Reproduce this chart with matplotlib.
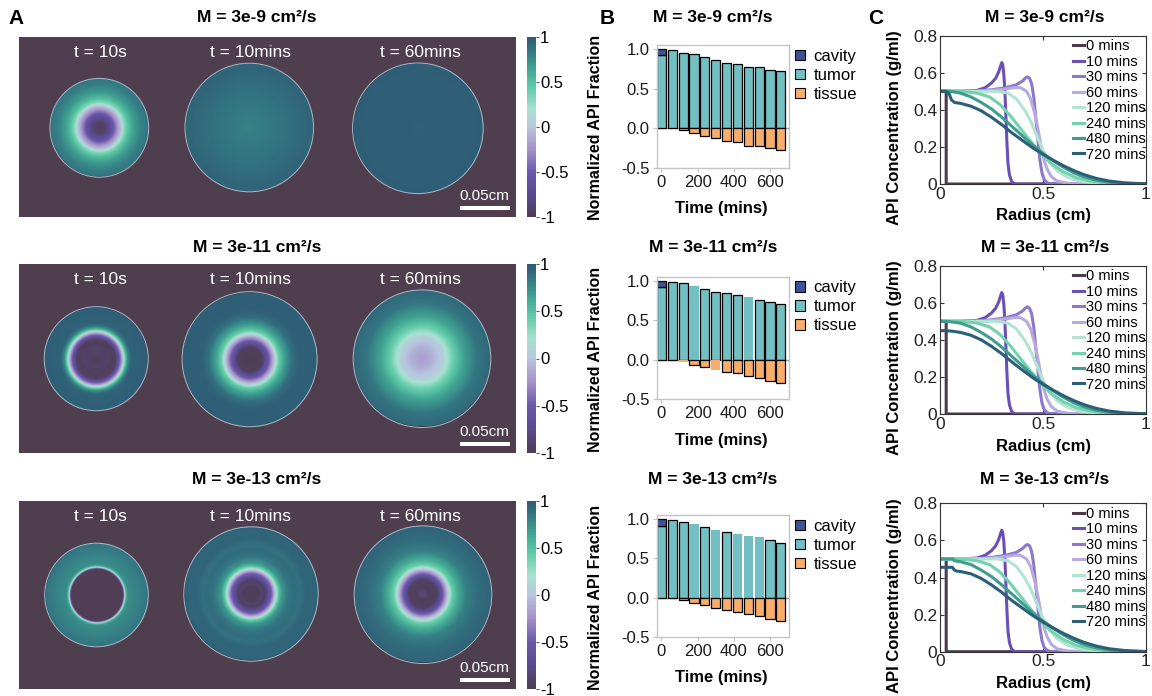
import numpy as np
import matplotlib
matplotlib.use("Agg")
import matplotlib.pyplot as plt
from matplotlib.colors import LinearSegmentedColormap
from matplotlib.patches import Circle, Rectangle, Patch
from matplotlib.colorbar import ColorbarBase
from matplotlib.colors import Normalize

plt.rcParams['font.family'] = ['Liberation Sans', 'DejaVu Sans']

# ---------------------------------------------------------------- data
mobility_titles = ["M = 3e-9 cm²/s", "M = 3e-11 cm²/s", "M = 3e-13 cm²/s"]
snapshot_labels = ["t = 10s", "t = 10mins", "t = 60mins"]

# radial profiles of the normalized field (rho = r / disk radius)
rho_m9_10s = [0, 0.12, 0.25, 0.36, 0.44, 0.5, 0.58, 0.7, 0.85, 1.0]
val_m9_10s = [-0.95, -0.88, -0.62, -0.25, 0.0, 0.3, 0.5, 0.68, 0.8, 0.86]
rho_m9_10m = [0, 0.5, 1.0]
val_m9_10m = [0.8, 0.86, 0.95]
rho_m9_60m = [0, 1.0]
val_m9_60m = [0.96, 0.97]

rho_m11_10s = [0, 0.2, 0.3, 0.38, 0.42, 0.47, 0.52, 0.56, 0.61, 0.68, 1.0]
val_m11_10s = [-0.95, -0.9, -0.95, -0.92, -0.7, -0.4, 0.0, 0.4, 0.75, 0.95, 0.97]
rho_m11_10m = [0, 0.18, 0.22, 0.27, 0.32, 0.37, 0.42, 0.5, 0.62, 0.72, 1.0]
val_m11_10m = [-0.97, -0.95, -0.75, -0.55, -0.25, 0.05, 0.4, 0.65, 0.88, 0.96, 0.97]
rho_m11_60m = [0, 0.15, 0.3, 0.45, 0.6, 0.8, 1.0]
val_m11_60m = [-0.2, -0.1, 0.05, 0.4, 0.65, 0.85, 0.93]

rho_m13_10s = [0, 0.5, 0.515, 0.53, 0.545, 0.56, 0.6, 0.8, 1.0]
val_m13_10s = [-0.97, -0.97, -0.5, 0.0, 0.25, 0.6, 0.75, 0.8, 0.86]
rho_m13_10m = [0, 0.12, 0.15, 0.2, 0.25, 0.3, 0.35, 0.4, 0.45, 0.55, 0.65, 0.72, 0.8, 1.0]
val_m13_10m = [-0.95, -0.95, -0.88, -0.93, -0.7, -0.45, 0.0, 0.45, 0.7, 0.85, 0.9, 0.87, 0.93, 0.95]
rho_m13_60m = [0, 0.04, 0.08, 0.2, 0.26, 0.31, 0.36, 0.42, 0.5, 0.62, 0.8, 1.0]
val_m13_60m = [-0.8, -0.85, -0.95, -0.93, -0.65, -0.35, 0.0, 0.4, 0.6, 0.8, 0.9, 0.95]

profiles = [
    [(rho_m9_10s, val_m9_10s), (rho_m9_10m, val_m9_10m), (rho_m9_60m, val_m9_60m)],
    [(rho_m11_10s, val_m11_10s), (rho_m11_10m, val_m11_10m), (rho_m11_60m, val_m11_60m)],
    [(rho_m13_10s, val_m13_10s), (rho_m13_10m, val_m13_10m), (rho_m13_60m, val_m13_60m)],
]

# API fraction per compartment over time
times = [0, 60, 120, 180, 240, 300, 360, 420, 480, 540, 600, 660]
cavity_m9 = [0.07, 0, 0, 0, 0, 0, 0, 0, 0, 0, 0, 0]
tumor_m9 = [0.93, 0.99, 0.96, 0.94, 0.90, 0.87, 0.83, 0.81, 0.77, 0.77, 0.74, 0.72]
tissue_m9 = [0, 0, -0.025, -0.06, -0.097, -0.127, -0.165, -0.18, -0.22, -0.22, -0.25, -0.27]
cavity_m11 = [0.08, 0, 0, 0, 0, 0, 0, 0, 0, 0, 0, 0]
tumor_m11 = [0.92, 0.99, 0.97, 0.93, 0.90, 0.86, 0.84, 0.82, 0.79, 0.755, 0.73, 0.70]
tissue_m11 = [0, 0, -0.025, -0.065, -0.09, -0.135, -0.15, -0.17, -0.21, -0.235, -0.265, -0.29]
cavity_m13 = [0.08, 0, 0, 0, 0, 0, 0, 0, 0, 0, 0, 0]
tumor_m13 = [0.92, 0.99, 0.97, 0.94, 0.90, 0.865, 0.84, 0.81, 0.79, 0.775, 0.73, 0.70]
tissue_m13 = [0, 0, -0.03, -0.065, -0.10, -0.13, -0.155, -0.18, -0.205, -0.23, -0.27, -0.30]
bar_sets = [(cavity_m9, tumor_m9, tissue_m9),
            (cavity_m11, tumor_m11, tissue_m11),
            (cavity_m13, tumor_m13, tissue_m13)]

# concentration profiles along the radius
curve_labels = ["0 mins", "10 mins", "30 mins", "60 mins", "120 mins",
                "240 mins", "480 mins", "720 mins"]
r_0m = [0, 0.03, 0.0301, 1.0]
c_0m = [0.5, 0.5, 0.0, 0.0]
r_10m = [0, 0.1, 0.18, 0.22, 0.25, 0.27, 0.285, 0.295, 0.3, 0.305, 0.31, 0.315,
         0.32, 0.325, 0.33, 0.337, 0.347, 0.36, 0.37, 1.0]
c_10m = [0.5, 0.5, 0.505, 0.52, 0.545, 0.57, 0.605, 0.64, 0.655, 0.64, 0.59, 0.5,
         0.36, 0.22, 0.11, 0.05, 0.015, 0.002, 0, 0]
r_30m = [0, 0.15, 0.25, 0.32, 0.37, 0.40, 0.415, 0.425, 0.435, 0.445, 0.455, 0.465,
         0.475, 0.485, 0.495, 0.505, 0.52, 0.54, 1.0]
c_30m = [0.5, 0.5, 0.508, 0.52, 0.535, 0.555, 0.572, 0.578, 0.57, 0.54, 0.47, 0.36,
         0.24, 0.13, 0.06, 0.025, 0.007, 0, 0]
r_60m = [0, 0.2, 0.3, 0.36, 0.39, 0.42, 0.44, 0.46, 0.475, 0.49, 0.505, 0.52,
         0.54, 0.57, 0.62, 0.7, 1.0]
c_60m = [0.5, 0.5, 0.51, 0.52, 0.52, 0.5, 0.46, 0.38, 0.3, 0.21, 0.13, 0.08,
         0.04, 0.015, 0.004, 0, 0]
r_120m = [0, 0.2, 0.28, 0.33, 0.37, 0.41, 0.44, 0.47, 0.5, 0.53, 0.57, 0.62,
          0.68, 0.76, 0.85, 1.0]
c_120m = [0.5, 0.5, 0.5, 0.49, 0.46, 0.4, 0.34, 0.26, 0.18, 0.12, 0.07, 0.035,
          0.015, 0.004, 0, 0]
r_240m = [0, 0.1, 0.18, 0.24, 0.29, 0.34, 0.39, 0.44, 0.49, 0.54, 0.6, 0.66,
          0.72, 0.8, 0.9, 1.0]
c_240m = [0.5, 0.5, 0.49, 0.47, 0.43, 0.37, 0.3, 0.23, 0.165, 0.11, 0.065, 0.035,
          0.018, 0.006, 0.001, 0]
r_480m_m9 = [0, 0.05, 0.1, 0.15, 0.2, 0.25, 0.3, 0.35, 0.4, 0.45, 0.5, 0.55,
             0.6, 0.65, 0.7, 0.76, 0.83, 0.9, 1.0]
c_480m_m9 = [0.5, 0.5, 0.49, 0.47, 0.44, 0.405, 0.36, 0.31, 0.26, 0.21, 0.165, 0.125,
             0.09, 0.06, 0.038, 0.02, 0.008, 0.003, 0]
r_480m_m11 = r_480m_m9
c_480m_m11 = [0.5, 0.498, 0.49, 0.47, 0.44, 0.405, 0.36, 0.31, 0.26, 0.21, 0.165, 0.125,
              0.09, 0.06, 0.038, 0.02, 0.008, 0.003, 0]
r_480m_m13 = [0, 0.06, 0.07, 0.1, 0.15, 0.2, 0.25, 0.3, 0.35, 0.4, 0.45, 0.5, 0.55,
              0.6, 0.65, 0.7, 0.76, 0.83, 0.9, 1.0]
c_480m_m13 = [0.5, 0.5, 0.49, 0.485, 0.47, 0.44, 0.405, 0.36, 0.31, 0.26, 0.21, 0.165, 0.125,
              0.09, 0.06, 0.038, 0.02, 0.008, 0.003, 0]
r_720m_m9 = [0, 0.03, 0.045, 0.055, 0.07, 0.1, 0.15, 0.2, 0.25, 0.3, 0.35, 0.4, 0.45,
             0.5, 0.55, 0.6, 0.65, 0.7, 0.76, 0.82, 0.9, 1.0]
c_720m_m9 = [0.5, 0.5, 0.485, 0.455, 0.44, 0.435, 0.42, 0.395, 0.36, 0.32, 0.275, 0.235, 0.195,
             0.16, 0.128, 0.098, 0.072, 0.05, 0.03, 0.016, 0.006, 0.001]
r_720m_m11 = [0, 0.05, 0.1, 0.15, 0.2, 0.25, 0.3, 0.35, 0.4, 0.45, 0.5, 0.55, 0.6,
              0.65, 0.7, 0.76, 0.82, 0.9, 1.0]
c_720m_m11 = [0.45, 0.448, 0.44, 0.425, 0.4, 0.365, 0.325, 0.28, 0.237, 0.196, 0.16, 0.128, 0.098,
              0.072, 0.05, 0.03, 0.016, 0.006, 0.001]
r_720m_m13 = [0, 0.06, 0.07, 0.08, 0.1, 0.15, 0.2, 0.25, 0.3, 0.35, 0.4, 0.45, 0.5,
              0.55, 0.6, 0.65, 0.7, 0.76, 0.82, 0.9, 1.0]
c_720m_m13 = [0.455, 0.455, 0.44, 0.435, 0.432, 0.42, 0.395, 0.36, 0.32, 0.275, 0.235, 0.195, 0.16,
              0.128, 0.098, 0.072, 0.05, 0.03, 0.016, 0.006, 0.001]
shared_curves = [(r_0m, c_0m), (r_10m, c_10m), (r_30m, c_30m), (r_60m, c_60m),
                 (r_120m, c_120m), (r_240m, c_240m)]
late_curves = [[(r_480m_m9, c_480m_m9), (r_720m_m9, c_720m_m9)],
               [(r_480m_m11, c_480m_m11), (r_720m_m11, c_720m_m11)],
               [(r_480m_m13, c_480m_m13), (r_720m_m13, c_720m_m13)]]

# ---------------------------------------------------------------- styles
cmap_nodes = [-1, -0.75, -0.5, -0.25, 0, 0.2, 0.45, 0.7, 0.85, 1]
cmap_hex = ['#4e3d4f', '#5a4a90', '#6a58aa', '#a690c8', '#b8c6de',
            '#a8e2d0', '#5ecaa6', '#3c9a8e', '#347682', '#2e5a73']
field_cmap = LinearSegmentedColormap.from_list(
    'field', list(zip([(v + 1) / 2 for v in cmap_nodes], cmap_hex)))
field_cmap.set_bad((0, 0, 0, 0))
bg_color = '#4f3f4e'
line_colors = ['#4d3b4d', '#6a4fb8', '#8b78cc', '#b6aadf', '#b3e3d3',
               '#74d1ae', '#3f9c8e', '#2b5f78']
cavity_c, tumor_c, tissue_c = '#3f5293', '#72bfc4', '#f9ad6a'
no_edge_tumor = [[], [3, 8], [3, 5, 7, 8, 9]]
no_edge_tissue = [[], [2, 5], []]

W, H = 1152, 696
fig = plt.figure(figsize=(W / 100, H / 100), dpi=100)


def px_axes(x0, y0, x1, y1):
    return fig.add_axes([x0 / W, 1 - y1 / H, (x1 - x0) / W, (y1 - y0) / H])


def px_text(x, y, s, **kw):
    kw.setdefault('ha', 'center')
    kw.setdefault('va', 'center')
    return fig.text(x / W, 1 - y / H, s, **kw)


# ---------------------------------------------------------------- panel A
row_boxes = [(18.5, 37.3, 516, 217.3), (18.5, 264, 516, 453), (18.5, 500.7, 516, 689.3)]
disks = [[(99.3, 127.8, 49.4), (249.3, 127.5, 64.3), (417.9, 128.3, 65.3)],
         [(96.2, 358.7, 52), (249.6, 359.2, 67.5), (422, 358.7, 68.8)],
         [(96.5, 595, 51.8), (251, 594, 67.2), (423, 594.7, 68.8)]]
label_x = [100, 251, 420]
title_y = [18, 247.5, 479]

g = np.linspace(-1, 1, 400)
GX, GY = np.meshgrid(g, g)
GR = np.hypot(GX, GY)

for i, (x0, y0, x1, y1) in enumerate(row_boxes):
    ax = px_axes(x0, y0, x1, y1)
    ax.set_facecolor(bg_color)
    for (cx, cy, r), (rk, vk) in zip(disks[i], profiles[i]):
        Z = np.ma.masked_where(GR > 1.0, np.interp(GR, rk, vk))
        im = ax.imshow(Z, extent=(cx - r, cx + r, cy + r, cy - r), cmap=field_cmap,
                       vmin=-1, vmax=1, interpolation='bilinear', zorder=2)
        circ = Circle((cx, cy), r, facecolor='none', edgecolor='#a9bccb',
                      lw=0.7, zorder=3)
        ax.add_patch(circ)
        im.set_clip_path(circ)
    for lx, lab in zip(label_x, snapshot_labels):
        ax.text(lx, y0 + 15.5, lab, color='white', fontsize=12.5, ha='center', va='center')
    ax.add_patch(Rectangle((460.4, y1 - 11), 49.2, 4, facecolor='white', edgecolor='none', zorder=4))
    ax.text(484.5, y1 - 21.5, "0.05cm", color='white', fontsize=11, ha='center', va='center')
    ax.set_xlim(x0, x1)
    ax.set_ylim(y1, y0)
    ax.set_aspect('auto')
    ax.set_xticks([])
    ax.set_yticks([])
    for s in ax.spines.values():
        s.set_visible(False)

    cax = px_axes(527, y0, 536, y1)
    cb = ColorbarBase(cax, cmap=field_cmap, norm=Normalize(-1, 1), ticks=[-1, -0.5, 0, 0.5, 1])
    cb.outline.set_visible(False)
    cb.set_ticklabels(['-1', '-0.5', '0', '0.5', '1'])
    cax.tick_params(labelsize=12, length=2, width=0.6, pad=1, color='#333333')

    px_text(257, title_y[i], mobility_titles[i], fontsize=12.5, fontweight='bold')

# ---------------------------------------------------------------- panel B
b_boxes = [(656.7, 45.4, 789, 167.7), (656.7, 276.8, 789, 399.3), (656.7, 515.4, 789, 636.7)]
for i, (x0, y0, x1, y1) in enumerate(b_boxes):
    ax = px_axes(x0, y0, x1, y1)
    cav, tum, tis = bar_sets[i]
    ax.axhline(0, color='#9a9a9a', lw=1.0, zorder=1)
    tb = ax.bar(times, tum, width=50, color=tumor_c, edgecolor='black', lw=0.9, zorder=2)
    cb_ = ax.bar(times, cav, width=50, bottom=tum, color=cavity_c, edgecolor='black', lw=0.9, zorder=2)
    sb = ax.bar(times, tis, width=50, color=tissue_c, edgecolor='black', lw=0.9, zorder=2)
    for k, c in enumerate(cav):
        if c == 0:
            cb_[k].set_visible(False)
        if tis[k] == 0:
            sb[k].set_visible(False)
    for k in no_edge_tumor[i]:
        tb[k].set_edgecolor('none')
    for k in no_edge_tissue[i]:
        sb[k].set_edgecolor('none')
    ax.set_xlim(-26, 705)
    ax.set_ylim(-0.5, 1.05)
    ax.set_xticks([0, 200, 400, 600])
    ax.set_yticks([-0.5, 0, 0.5, 1.0])
    ax.set_yticklabels(['-0.5', '0.0', '0.5', '1.0'])
    for s in ax.spines.values():
        s.set_color('#c4c4c4')
        s.set_linewidth(1.0)
    ax.tick_params(colors='#c4c4c4', labelcolor='#1a1a1a', labelsize=12, length=3, pad=2)
    handles = [Patch(facecolor=cavity_c, edgecolor='black', lw=0.8, label='cavity'),
               Patch(facecolor=tumor_c, edgecolor='black', lw=0.8, label='tumor'),
               Patch(facecolor=tissue_c, edgecolor='black', lw=0.8, label='tissue')]
    ax.legend(handles=handles, loc='upper left', bbox_to_anchor=(1.02, 1.0), frameon=False,
              handlelength=0.6, handleheight=0.6, handletextpad=0.5, labelspacing=0.25,
              fontsize=12, borderaxespad=0.0, borderpad=0.2)
    px_text(721, y1 + 41, "Time (mins)", fontsize=12, fontweight='bold')
    px_text(596, (y0 + y1) / 2 + 21, "Normalized API Fraction", fontsize=11.5,
            fontweight='bold', rotation=90)
    px_text(713, title_y[i], mobility_titles[i], fontsize=12.5, fontweight='bold')

# ---------------------------------------------------------------- panel C
c_boxes = [(940, 35.7, 1146, 184), (940, 265.7, 1146, 414), (940, 503.3, 1146, 651.7)]
for i, (x0, y0, x1, y1) in enumerate(c_boxes):
    ax = px_axes(x0, y0, x1, y1)
    curves = shared_curves + late_curves[i]
    for (rr, cc), col, lab in zip(curves, line_colors, curve_labels):
        ax.plot(rr, cc, color=col, lw=2.2, label=lab, solid_joinstyle='round')
    ax.set_xlim(0, 1)
    ax.set_ylim(0, 0.8)
    ax.set_xticks([0, 0.5, 1])
    ax.set_xticklabels(['0', '0.5', '1'])
    ax.set_yticks([0, 0.2, 0.4, 0.6, 0.8])
    ax.set_yticklabels(['0', '0.2', '0.4', '0.6', '0.8'])
    for s in ax.spines.values():
        s.set_color('#333333')
        s.set_linewidth(0.8)
    ax.tick_params(direction='in', top=True, right=True, length=3, width=0.8,
                   labelsize=12.5, pad=2, color='#333333', labelcolor='#222222')
    ax.legend(loc='upper right', bbox_to_anchor=(1.005, 0.985), frameon=False,
              fontsize=10.5, handlelength=0.8, handletextpad=0.1, labelspacing=0.1,
              borderaxespad=0.0, borderpad=0.1)
    px_text(1043, y1 + 32, "Radius (cm)", fontsize=12, fontweight='bold')
    px_text(894, (y0 + y1) / 2 + 18, "API Concentration (g/ml)", fontsize=12,
            fontweight='bold', rotation=90)
    px_text(1045, title_y[i], mobility_titles[i], fontsize=12.5, fontweight='bold')

# panel letters
px_text(16, 18, "A", fontsize=15, fontweight='bold')
px_text(607, 18, "B", fontsize=15, fontweight='bold')
px_text(876, 18, "C", fontsize=15, fontweight='bold')

fig.savefig("out.png", dpi=100, facecolor='white')
